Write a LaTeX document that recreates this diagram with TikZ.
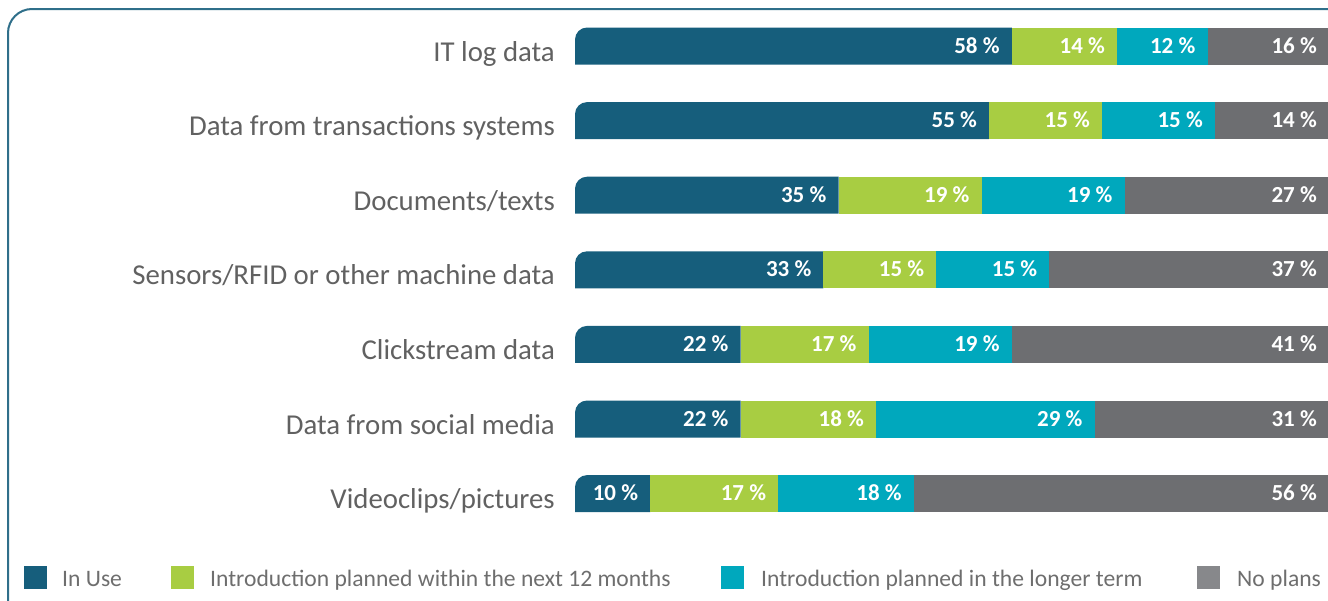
\documentclass[tikz,border=0pt]{standalone}
\usepackage{fontspec}
\setmainfont{Carlito}
\definecolor{inuse}{HTML}{165E7C}
\definecolor{plan12}{HTML}{A8CD42}
\definecolor{planlong}{HTML}{00A8BD}
\definecolor{noplan}{HTML}{6D6E71}
\definecolor{noplanleg}{HTML}{87888B}
\definecolor{framec}{HTML}{2F6F8A}
\definecolor{labelc}{HTML}{616161}
\definecolor{legc}{HTML}{6E6E6E}
\tikzset{
  rowlabel/.style={anchor=base east, inner sep=0pt, text=labelc, font=\fontsize{28.8}{31}\selectfont},
  pct/.style={anchor=base east, inner sep=0pt, text=white, font=\bfseries\fontsize{23}{25}\selectfont},
  legbox/.style={minimum width=23pt, minimum height=23pt, inner sep=0pt, anchor=north west},
  legtext/.style={anchor=base west, inner sep=0pt, text=legc, font=\fontsize{23.6}{26}\selectfont},
}
\newcommand\barrow[6]{%
  \pgfmathsetmacro\rt{27.5+74.6*#1}%
  \pgfmathsetmacro\rb{\rt+37}%
  \pgfmathsetmacro\xa{575+7.53*#3}%
  \pgfmathsetmacro\xb{\xa+7.53*#4}%
  \pgfmathsetmacro\xc{\xb+7.53*#5}%
  \pgfmathsetmacro\bl{\rt+25.5}%
  \fill[inuse] (\xa,\rb) -- (575,\rb) -- (575,\rt+12) arc[start angle=180, end angle=270, radius=12] -- (\xa,\rt) -- cycle;
  \fill[plan12] (\xa,\rt) rectangle (\xb,\rb);
  \fill[planlong] (\xb,\rt) rectangle (\xc,\rb);
  \fill[noplan] (\xc,\rt) rectangle (1328,\rb);
  \node[rowlabel] (lab#1) at (555,\rt+33.5) {#2};
  \node[pct] (a#1) at (\xa-12,\bl) {#3 \%};
  \node[pct] (b#1) at (\xb-12,\bl) {#4 \%};
  \node[pct] (c#1) at (\xc-12,\bl) {#5 \%};
  \node[pct] (d#1) at (1317,\bl) {#6 \%};
}
\begin{document}
\begin{tikzpicture}[x=1pt,y=-1pt]
\useasboundingbox (0,0) rectangle (1328,600);
\draw[framec, line width=2pt, rounded corners=24pt] (8,602) -- (8,9) -- (1332,9);
\barrow{0}{IT log data}{58}{14}{12}{16}
\barrow{1}{Data from transactions systems}{55}{15}{15}{14}
\barrow{2}{Documents/texts}{35}{19}{19}{27}
\barrow{3}{Sensors/RFID or other machine data}{33}{15}{15}{37}
\barrow{4}{Clickstream data}{22}{17}{19}{41}
\barrow{5}{Data from social media}{22}{18}{29}{31}
\barrow{6}{Videoclips/pictures}{10}{17}{18}{56}
% legend
\node[legbox, fill=inuse] (k1) at (24,566) {};
\node[legtext] (t1) at (62,586) {In Use};
\node[legbox, fill=plan12] (k2) at (171,566) {};
\node[legtext] (t2) at (210,586) {Introduction planned within the next 12 months};
\node[legbox, fill=planlong] (k3) at (721,566) {};
\node[legtext] (t3) at (761,586) {Introduction planned in the longer term};
\node[legbox, fill=noplanleg] (k4) at (1197,566) {};
\node[legtext] (t4) at (1237,586) {No plans};
\end{tikzpicture}
\end{document}
